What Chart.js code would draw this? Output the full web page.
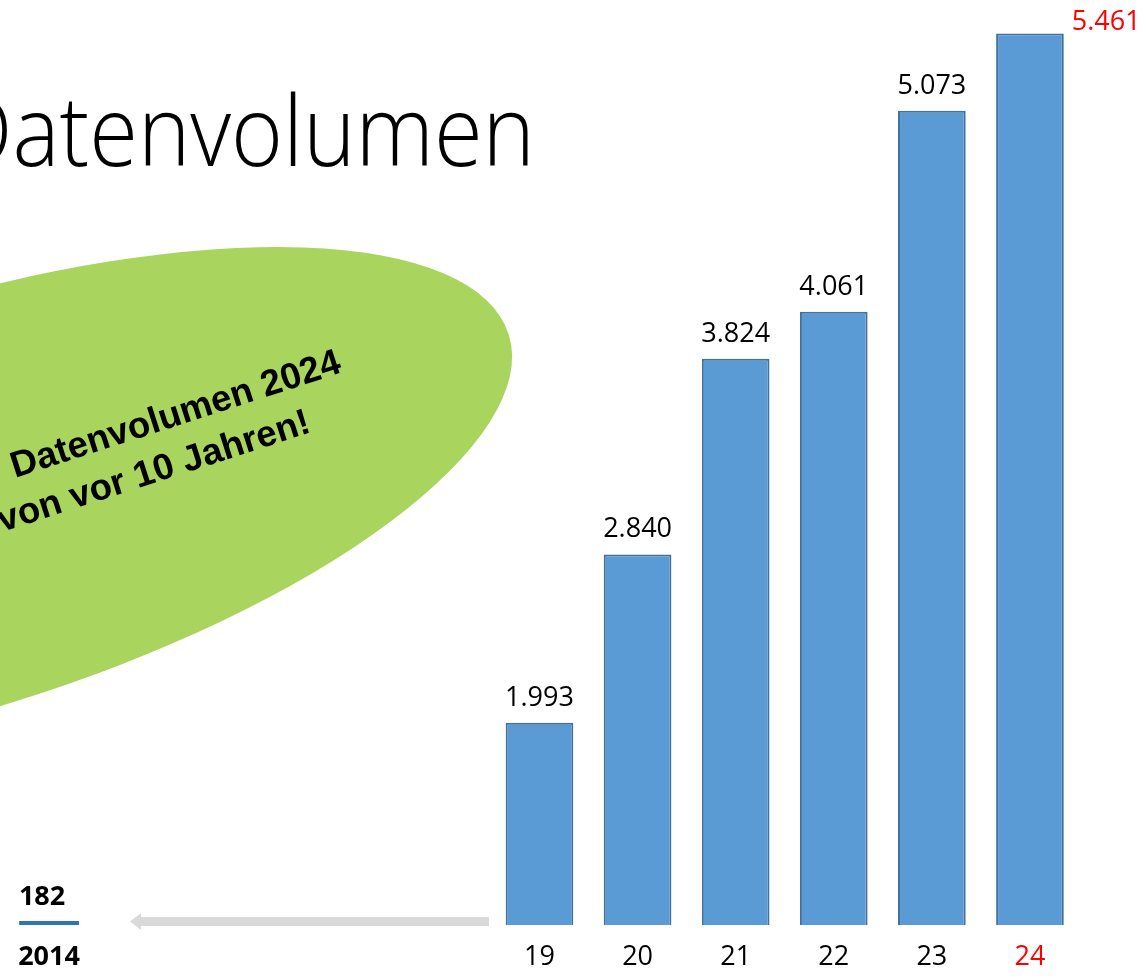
<!DOCTYPE html>
<html>
<head>
<meta charset="utf-8">
<script src="https://cdn.jsdelivr.net/npm/chart.js@4.4.1/dist/chart.umd.min.js"></script>
<style>
  html, body { margin: 0; padding: 0; background: #fff; overflow: hidden; }
  #wrap { position: relative; width: 1146px; height: 978px; }
</style>
</head>
<body>
<div id="wrap"><canvas id="chart" width="1146" height="978"></canvas></div>
<script>
// categories (2015-2018 are skipped on the slide, the arrow stands for them)
const years = ['2014', '2015', '2016', '2017', '2018', '2019', '2020', '2021', '2022', '2023', '2024'];
const tickLabels = ['2014', '', '', '', '', '19', '20', '21', '22', '23', '24'];
// Datenvolumen
const volumes = [null, null, null, null, null, 1993, 2840, 3824, 4061, 5073, 5461];
const volume2014 = [182, null, null, null, null, null, null, null, null, null, null];
const highlight = 10;

const fmt = (v) => v.toLocaleString('de-DE');

const decor = {
  id: 'decor',
  beforeDraw(chart) {
    const { ctx } = chart;
    ctx.save();
    // green ellipse
    ctx.fillStyle = '#a9d55f';
    ctx.beginPath();
    ctx.ellipse(-46.3, 507.2, 581.3, 203.8, -17.27 * Math.PI / 180, 0, Math.PI * 2);
    ctx.fill();

    // text in the ellipse
    ctx.fillStyle = '#000';
    ctx.font = 'bold 36.7px "Liberation Sans"';
    ctx.textBaseline = 'alphabetic';
    ctx.textAlign = 'left';
    const ang = -17.9 * Math.PI / 180;
    ctx.save();
    ctx.translate(15, 478);
    ctx.rotate(ang);
    ctx.fillText('Datenvolumen 2024', 0, 0);
    ctx.restore();
    ctx.save();
    ctx.translate(2, 532);
    ctx.rotate(ang);
    ctx.fillText('von vor 10 Jahren!', 0, 0);
    ctx.restore();

    // title, cut off at the left edge like the slide
    ctx.font = '300 97px "Open Sans"';
    const w = ctx.measureText('atenvolumen').width;
    ctx.save();
    ctx.translate(535, 166);
    ctx.scale(522.5 / w, 1);
    ctx.textAlign = 'right';
    ctx.fillText('Datenvolumen', 0, 0);
    ctx.restore();

    // grey arrow pointing back to 2014
    ctx.fillStyle = '#d9d9d9';
    ctx.fillRect(139, 917, 350, 9);
    ctx.beginPath();
    ctx.moveTo(130, 921.5);
    ctx.lineTo(141, 913);
    ctx.lineTo(141, 930);
    ctx.closePath();
    ctx.fill();
    ctx.restore();
  },
  afterDatasetsDraw(chart) {
    const { ctx, chartArea } = chart;
    ctx.save();
    ctx.textBaseline = 'alphabetic';
    ctx.font = '27px "Open Sans"';
    chart.getDatasetMeta(0).data.forEach((bar, i) => {
      const v = volumes[i];
      if (v == null) return;
      if (i === highlight) {
        ctx.fillStyle = '#ff0000';
        ctx.textAlign = 'left';
        ctx.fillText(fmt(v), bar.x + bar.width / 2 + 8, chartArea.top + 30);
      } else {
        ctx.fillStyle = '#000';
        ctx.textAlign = 'center';
        ctx.fillText(fmt(v), bar.x, bar.y - 17);
      }
    });
    ctx.font = 'bold 27px "Open Sans"';
    ctx.fillStyle = '#000';
    ctx.textAlign = 'center';
    chart.getDatasetMeta(1).data.forEach((bar, i) => {
      const v = volume2014[i];
      if (v == null) return;
      ctx.fillText(fmt(v), bar.x - 7, bar.y - 16);
    });
    ctx.restore();
  },
};

new Chart(document.getElementById('chart'), {
  type: 'bar',
  data: {
    labels: years,
    datasets: [
      {
        label: 'Datenvolumen',
        data: volumes,
        backgroundColor: '#5b9bd5',
        borderColor: '#41719c',
        borderWidth: 2,
        borderSkipped: false,
        categoryPercentage: 1,
        barPercentage: 0.69,
        grouped: false,
        yAxisID: 'y',
      },
      {
        label: '2014',
        data: volume2014,
        backgroundColor: '#2e75b6',
        borderWidth: 0,
        categoryPercentage: 1,
        barPercentage: 0.61,
        grouped: false,
        yAxisID: 'y2',
      },
    ],
  },
  options: {
    responsive: false,
    animation: false,
    layout: { padding: { left: -3, right: 67, top: 0, bottom: -11.4 } },
    plugins: { legend: { display: false }, tooltip: { enabled: false } },
    scales: {
      x: {
        grid: { display: false, drawTicks: false },
        border: { display: false },
        ticks: {
          autoSkip: false,
          maxRotation: 0,
          padding: 16,
          callback: (value, index) => tickLabels[index],
          color: (c) => (c.index === highlight ? '#ff0000' : '#000'),
          font: (c) => ({ family: '"Open Sans"', size: 27, weight: c.index === 0 ? 'bold' : 'normal' }),
        },
      },
      y: { display: false, min: 975, max: 5630 },
      y2: { display: false, min: 0, max: 42000 },
    },
  },
  plugins: [decor],
});
</script>
</body>
</html>
